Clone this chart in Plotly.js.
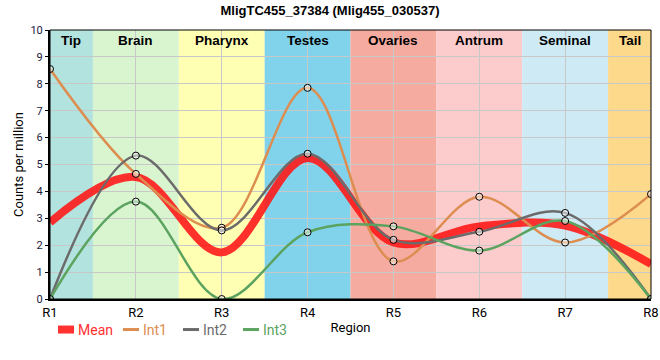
<!DOCTYPE html>
<html><head><meta charset="utf-8">
<script src="https://cdn.plot.ly/plotly-3.0.1.min.js"></script>
<style>body{margin:0;padding:0;background:#fff}#chart{width:660px;height:360px}</style>
</head><body><div id="chart"></div>
<script>
const regions = ['R1','R2','R3','R4','R5','R6','R7','R8'];
const tissues = ['Tip','Brain','Pharynx','Testes','Ovaries','Antrum','Seminal','Tail'];
const tissueColors = ['#b3e3de','#d9f5d0','#ffffb4','#80d3eb','#f5ab9f','#fccbcb','#cdeaf5','#fdd98b'];
const int1 = [8.55, 4.65, 2.65, 7.85, 1.4, 3.8, 2.1, 3.9];
const int2 = [0, 5.33, 2.55, 5.4, 2.2, 2.5, 3.2, 0];
const int3 = [0, 3.62, 0, 2.48, 2.7, 1.8, 2.9, 0];
const meanVals = int1.map((v,i)=> (v + int2[i] + int3[i]) / 3);

const seriesNames = ['Mean','Int1','Int2','Int3'];
const seriesColors = ['rgba(255,20,20,0.88)','#dd8d4f','#6b6b6b','#5ba35f'];
const legendTextColors = ['#ff3030','#dd8d4f','#6b6b6b','#5ba35f'];

const xs = regions.map((r,i)=>i);
const n = regions.length;

const shapes = tissues.map((t,i)=>({
  type:'rect', xref:'x', yref:'paper', layer:'below',
  x0: Math.max(i-0.5, 0), x1: Math.min(i+0.5, n-1), y0:0, y1:1,
  fillcolor: tissueColors[i], line:{width:0}
}));
shapes.push({type:'rect', xref:'paper', yref:'paper', x0:0, x1:1, y0:0, y1:1, line:{color:'#000', width:1}, layer:'above'});

const annotations = tissues.map((t,i)=>({
  x: i===0 ? 0.25 : (i===n-1 ? n-1.25 : i), y: 1, xref:'x', yref:'paper',
  yanchor:'top', yshift:-1, showarrow:false, text:'<b>'+t+'</b>',
  font:{family:'Liberation Sans, Arial', size:13.5, color:'#000'}
}));

const dataSets = [meanVals, int1, int2, int3];
const traces = dataSets.map((d,k)=>{
  const tr = {
    x:xs, y:d, name:seriesNames[k], showlegend:false,
    mode: k===0 ? 'lines' : 'lines+markers',
    line:{color:seriesColors[k], width: k===0 ? 8 : 2.5, shape:'spline', smoothing:1}
  };
  if (k>0) tr.marker = {symbol:'circle', size:7, color:'rgba(255,255,255,0.5)', line:{color:'#000', width:1}};
  return tr;
});
seriesNames.forEach((nm,k)=>{
  traces.push({x:[null], y:[null], name:nm, mode:'lines', showlegend:true,
    line:{color:seriesColors[k], width: k===0 ? 8 : 3}});
});

const layout = {
  width:660, height:360,
  margin:{l:50, r:9, t:30, b:61},
  paper_bgcolor:'#fff', plot_bgcolor:'rgba(0,0,0,0)',
  title:{text:'<b>MligTC455_37384 (Mlig455_030537)</b>', x:0.5, xanchor:'center', y:0.985, yanchor:'top',
    font:{family:'Liberation Sans, Arial', size:13, color:'#000'}},
  xaxis:{range:[0,n-1], tickvals:xs, ticktext:regions, showgrid:true, gridcolor:'#c8c8c8', gridwidth:1,
    zeroline:false, showline:true, linecolor:'#000', linewidth:2, automargin:false,
    tickfont:{family:'Roboto, Liberation Sans', size:13, color:'#000'},
    title:{text:'Region', standoff:4, font:{family:'Roboto, Liberation Sans', size:13, color:'#000'}}},
  yaxis:{range:[0,10], dtick:1, showgrid:true, gridcolor:'#c8c8c8', gridwidth:1, automargin:false,
    zeroline:false, showline:true, linecolor:'#000', linewidth:2, ticks:'outside', ticklen:3, tickcolor:'#000',
    tickfont:{family:'Roboto, Liberation Sans', size:11, color:'#1a1a40'},
    title:{text:'Counts per million', standoff:4, font:{family:'Roboto, Liberation Sans', size:13, color:'#000'}}},
  legend:{orientation:'h', x:0.0, xanchor:'left', y:-0.115, yanchor:'middle', bgcolor:'rgba(0,0,0,0)',
    font:{family:'Roboto, Liberation Sans', size:14}, itemwidth:30, tracegroupgap:0},
  shapes:shapes, annotations:annotations, showlegend:true
};

Plotly.newPlot('chart', traces, layout, {displayModeBar:false, staticPlot:true}).then(()=>{
  const offsets = [0, 65, 125, 185];
  document.querySelectorAll('.legend .traces').forEach((g,i)=>{
    const t = g.querySelector('text.legendtext');
    if (t) { t.style.fill = legendTextColors[i]; t.setAttribute('x', 25); }
    g.querySelectorAll('path.js-line').forEach(p=>p.setAttribute('d','M5,0h16'));
    const tr = g.getAttribute('transform') || '';
    const m = tr.match(/translate\(\s*([-\d.]+)[ ,]+([-\d.]+)\s*\)/);
    const y = m ? m[2] : 0;
    g.setAttribute('transform', 'translate(' + (offsets[i] + 3) + ',' + y + ')');
  });
});
</script></body></html>
